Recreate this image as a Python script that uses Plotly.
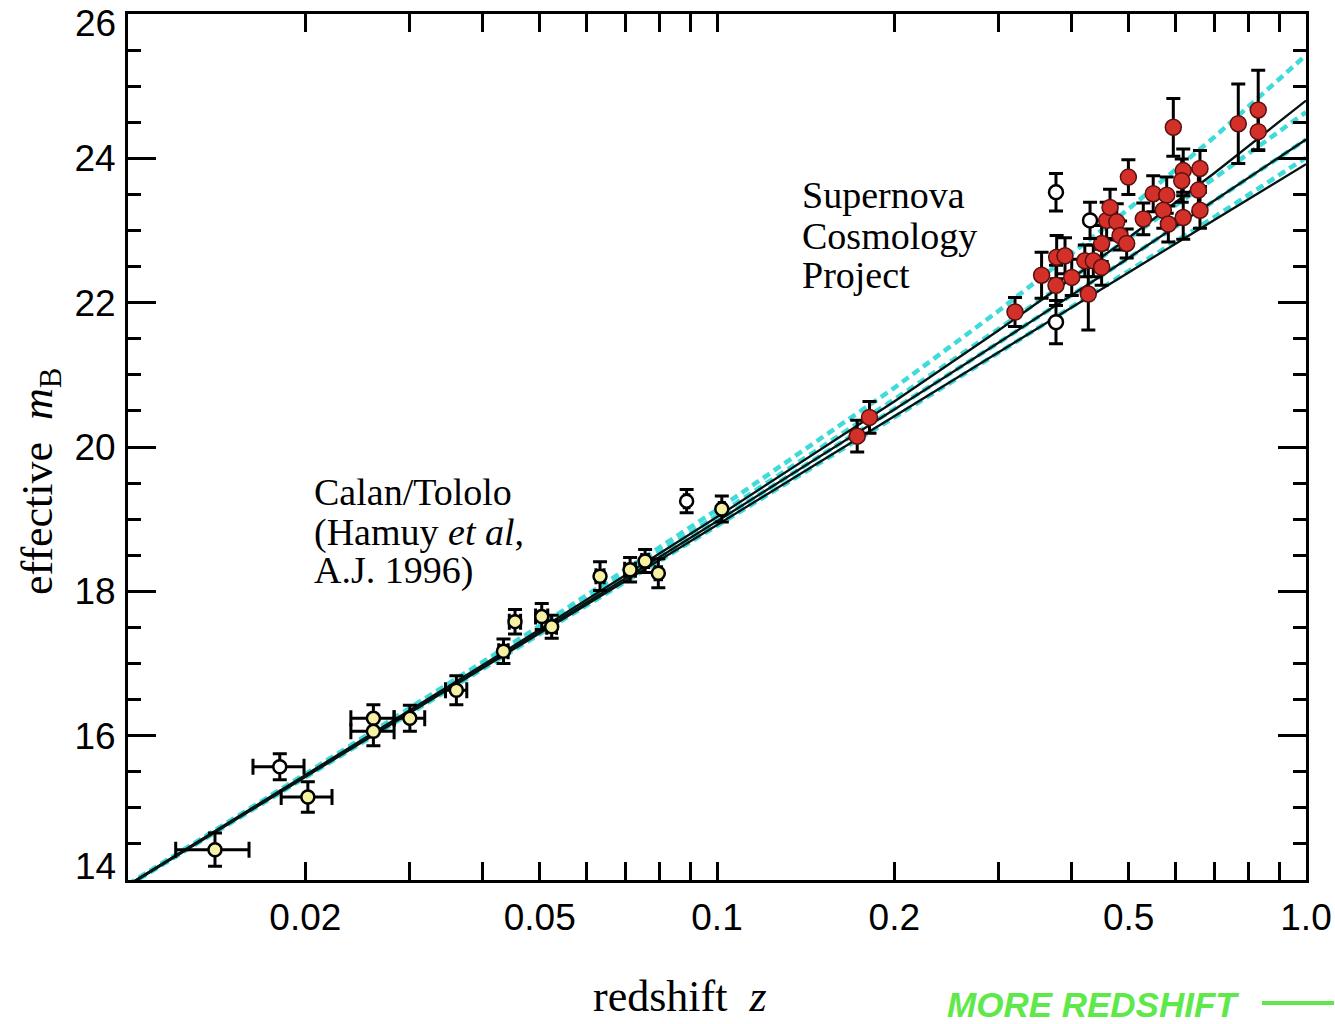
import plotly.graph_objects as go

# ---------------- data ----------------
# model curves at these redshifts
z_model = [0.01, 0.02, 0.05, 0.1, 0.2, 0.3, 0.5, 0.7, 1.0]
m_flat_0_1 = [13.94, 15.47, 17.52, 19.13, 20.82, 21.88, 23.30, 24.30, 25.43]
m_flat_05_05 = [13.93, 15.45, 17.48, 19.05, 20.66, 21.63, 22.89, 23.73, 24.64]
m_flat_1_0 = [13.93, 15.44, 17.44, 18.97, 20.52, 21.44, 22.62, 23.42, 24.26]
m_flat_15_m05 = [13.92, 15.42, 17.40, 18.90, 20.41, 21.30, 22.43, 23.19, 24.01]
m_open_0_0 = [13.93, 15.45, 17.47, 19.03, 20.63, 21.61, 22.90, 23.80, 24.80]
m_eds_1_0 = [13.93, 15.44, 17.44, 18.97, 20.52, 21.44, 22.62, 23.42, 24.26]
m_closed_2_0 = [13.92, 15.43, 17.42, 18.92, 20.43, 21.31, 22.42, 23.15, 23.92]

# Calan/Tololo supernovae (filled, pale yellow)
ct_z = [0.01405, 0.0202, 0.0261, 0.0261, 0.0301, 0.0361, 0.0434, 0.0454,
        0.0504, 0.0524, 0.0633, 0.0712, 0.0755, 0.0795, 0.1019]
ct_m = [14.42, 15.15, 16.24, 16.06, 16.24, 16.63, 17.17, 17.58,
        17.65, 17.51, 18.21, 18.30, 18.42, 18.25, 19.14]
ct_zerr = [0.0020, 0.0020, 0.0022, 0.0022, 0.0018, 0.0015, 0.0008, 0.0010,
           0.0012, 0.0010, 0.0010, 0.0015, 0.0010, 0.0010, 0.0010]
ct_merr = [0.23, 0.21, 0.19, 0.20, 0.18, 0.20, 0.17, 0.17,
           0.18, 0.16, 0.20, 0.17, 0.16, 0.20, 0.18]

# Calan/Tololo open symbols
cto_z = [0.0181, 0.0888]
cto_m = [15.57, 19.25]
cto_zerr = [0.0018, 0.0008]
cto_merr = [0.18, 0.16]

# Supernova Cosmology Project (filled red)
scp_z = [0.1730, 0.1815, 0.3206, 0.3557, 0.3763, 0.3773, 0.3898, 0.4002,
         0.4212, 0.4354, 0.4270, 0.4498, 0.4498, 0.4587, 0.4648, 0.4772,
         0.4834, 0.4961, 0.4994, 0.5294, 0.5503, 0.5801, 0.5725, 0.5838,
         0.6188, 0.6607, 0.6152, 0.6566, 0.6607, 0.6188, 0.5953, 0.7674,
         0.8296, 0.8296]
scp_m = [20.15, 20.41, 21.87, 22.38, 22.24, 22.63, 22.65, 22.35,
         22.58, 22.58, 22.12, 22.49, 22.82, 23.14, 23.32, 23.12,
         22.93, 22.82, 23.74, 23.16, 23.51, 23.49, 23.28, 23.09,
         23.83, 23.86, 23.69, 23.56, 23.28, 23.18, 24.43, 24.48,
         24.67, 24.37]
scp_merr = [0.22, 0.22, 0.20, 0.32, 0.28, 0.30, 0.25, 0.25,
            0.22, 0.22, 0.50, 0.25, 0.25, 0.25, 0.25, 0.25,
            0.20, 0.20, 0.24, 0.22, 0.25, 0.25, 0.25, 0.25,
            0.30, 0.25, 0.30, 0.30, 0.25, 0.30, 0.40, 0.55,
            0.55, 0.26]

# SCP open symbols
scpo_z = [0.3763, 0.3763, 0.4299]
scpo_m = [23.53, 21.73, 23.14]
scpo_merr = [0.26, 0.30, 0.25]

# axis ticks
x_major = [0.02, 0.05, 0.1, 0.2, 0.5, 1.0]
x_major_text = ["0.02", "0.05", "0.1", "0.2", "0.5", "1.0"]
x_minor = [0.03, 0.04, 0.06, 0.07, 0.08, 0.09, 0.3, 0.4, 0.6, 0.7, 0.8, 0.9]
y_major = [16, 18, 20, 22, 24]
# the end labels (14, 26) sit just inside the frame, as in the original
y_end_labels = ["14", "26"]

# ---------------- figure ----------------
CYAN = "#3fdada"
INK = "#061414"
fig = go.Figure()

for m in [m_flat_0_1, m_flat_05_05, m_flat_1_0, m_flat_15_m05]:
    fig.add_trace(go.Scatter(x=z_model, y=m, mode="lines",
                             line=dict(color=CYAN, width=4.5, dash="8px,5px"),
                             hoverinfo="skip"))
for m in [m_open_0_0, m_eds_1_0, m_closed_2_0]:
    fig.add_trace(go.Scatter(x=z_model, y=m, mode="lines",
                             line=dict(color=INK, width=2.3),
                             hoverinfo="skip"))

fig.add_trace(go.Scatter(
    x=ct_z, y=ct_m, mode="markers",
    error_x=dict(type="data", array=ct_zerr, color="black", thickness=3, width=8),
    error_y=dict(type="data", array=ct_merr, color="black", thickness=3, width=7),
    marker=dict(size=13, color="#f6f0a2", line=dict(color="black", width=2.5))))
fig.add_trace(go.Scatter(
    x=cto_z, y=cto_m, mode="markers",
    error_x=dict(type="data", array=cto_zerr, color="black", thickness=3, width=8),
    error_y=dict(type="data", array=cto_merr, color="black", thickness=3, width=7),
    marker=dict(size=13, color="white", line=dict(color="black", width=2.5))))
fig.add_trace(go.Scatter(
    x=scp_z, y=scp_m, mode="markers",
    error_y=dict(type="data", array=scp_merr, color="black", thickness=3, width=7),
    marker=dict(size=16, color="#d4302a", line=dict(color="#5a1010", width=1.5))))
fig.add_trace(go.Scatter(
    x=scpo_z, y=scpo_m, mode="markers",
    error_y=dict(type="data", array=scpo_merr, color="black", thickness=3, width=7),
    marker=dict(size=14, color="white", line=dict(color="black", width=2.5))))

SANS = "Liberation Sans, Arial, sans-serif"
TICKFONT = dict(family=SANS, size=37, color="black")
SERIF = "Liberation Serif, Times New Roman, serif"

fig.update_xaxes(
    type="log", range=[-2, 0], automargin=False,
    tickmode="array", tickvals=x_major, ticktext=x_major_text,
    ticks="inside", ticklen=18, tickwidth=3, tickcolor="black",
    minor=dict(tickmode="array", tickvals=x_minor, ticks="inside",
               ticklen=18, tickwidth=3, tickcolor="black"),
    showline=True, linewidth=3, linecolor="black", mirror="ticks",
    showgrid=False, zeroline=False, tickfont=TICKFONT, ticklabelstandoff=3,
    ticklabeloverflow="allow")
fig.update_yaxes(
    range=[14, 26], automargin=False,
    tickmode="array", tickvals=y_major,
    ticks="inside", ticklen=28, tickwidth=3, tickcolor="black",
    minor=dict(dtick=0.5, ticks="inside", ticklen=13, tickwidth=3, tickcolor="black"),
    showline=True, linewidth=3, linecolor="black", mirror="ticks",
    showgrid=False, zeroline=False, tickfont=TICKFONT, ticklabelstandoff=2)

def px_to_paper(px, py):
    return (px - 128) / 1178.0, (880 - py) / 866.0

annos = []
def add_text(text, px, py, size=38, xanchor="left", angle=0, family=SERIF, color="black"):
    x, y = px_to_paper(px, py)
    annos.append(dict(text=text, x=x, y=y, xref="paper", yref="paper",
                      xanchor=xanchor, yanchor="middle", showarrow=False,
                      textangle=angle, font=dict(family=family, size=size, color=color)))

add_text(y_end_labels[0], 118, 866, size=37, xanchor="right", family=SANS)
add_text(y_end_labels[1], 118, 24, size=37, xanchor="right", family=SANS)
add_text("Supernova", 800, 195)
add_text("Cosmology", 800, 236)
add_text("Project", 800, 275)
add_text("Calan/Tololo", 312, 492)
add_text("(Hamuy <i>et al</i>,", 312, 532)
add_text("A.J. 1996)", 312, 570)
add_text("effective  <i>m</i><sub>B</sub>", 41, 482, size=44, xanchor="center", angle=-90)
add_text("redshift  <i>z</i>", 680, 996, size=44, xanchor="center")
add_text("<b><i>MORE REDSHIFT</i></b>", 1093, 1004, size=35, xanchor="center",
         family=SANS, color="#5ee84a")

fig.update_layout(
    width=1335, height=1024,
    margin=dict(l=128, r=29, t=14, b=144),
    plot_bgcolor="white", paper_bgcolor="white",
    showlegend=False, annotations=annos,
    shapes=[dict(type="line", xref="paper", yref="paper",
                 x0=(1262 - 128) / 1178.0, x1=(1334 - 128) / 1178.0,
                 y0=(880 - 1003) / 866.0, y1=(880 - 1003) / 866.0,
                 line=dict(color="#5ee84a", width=4))])

fig.write_html("out.html")
